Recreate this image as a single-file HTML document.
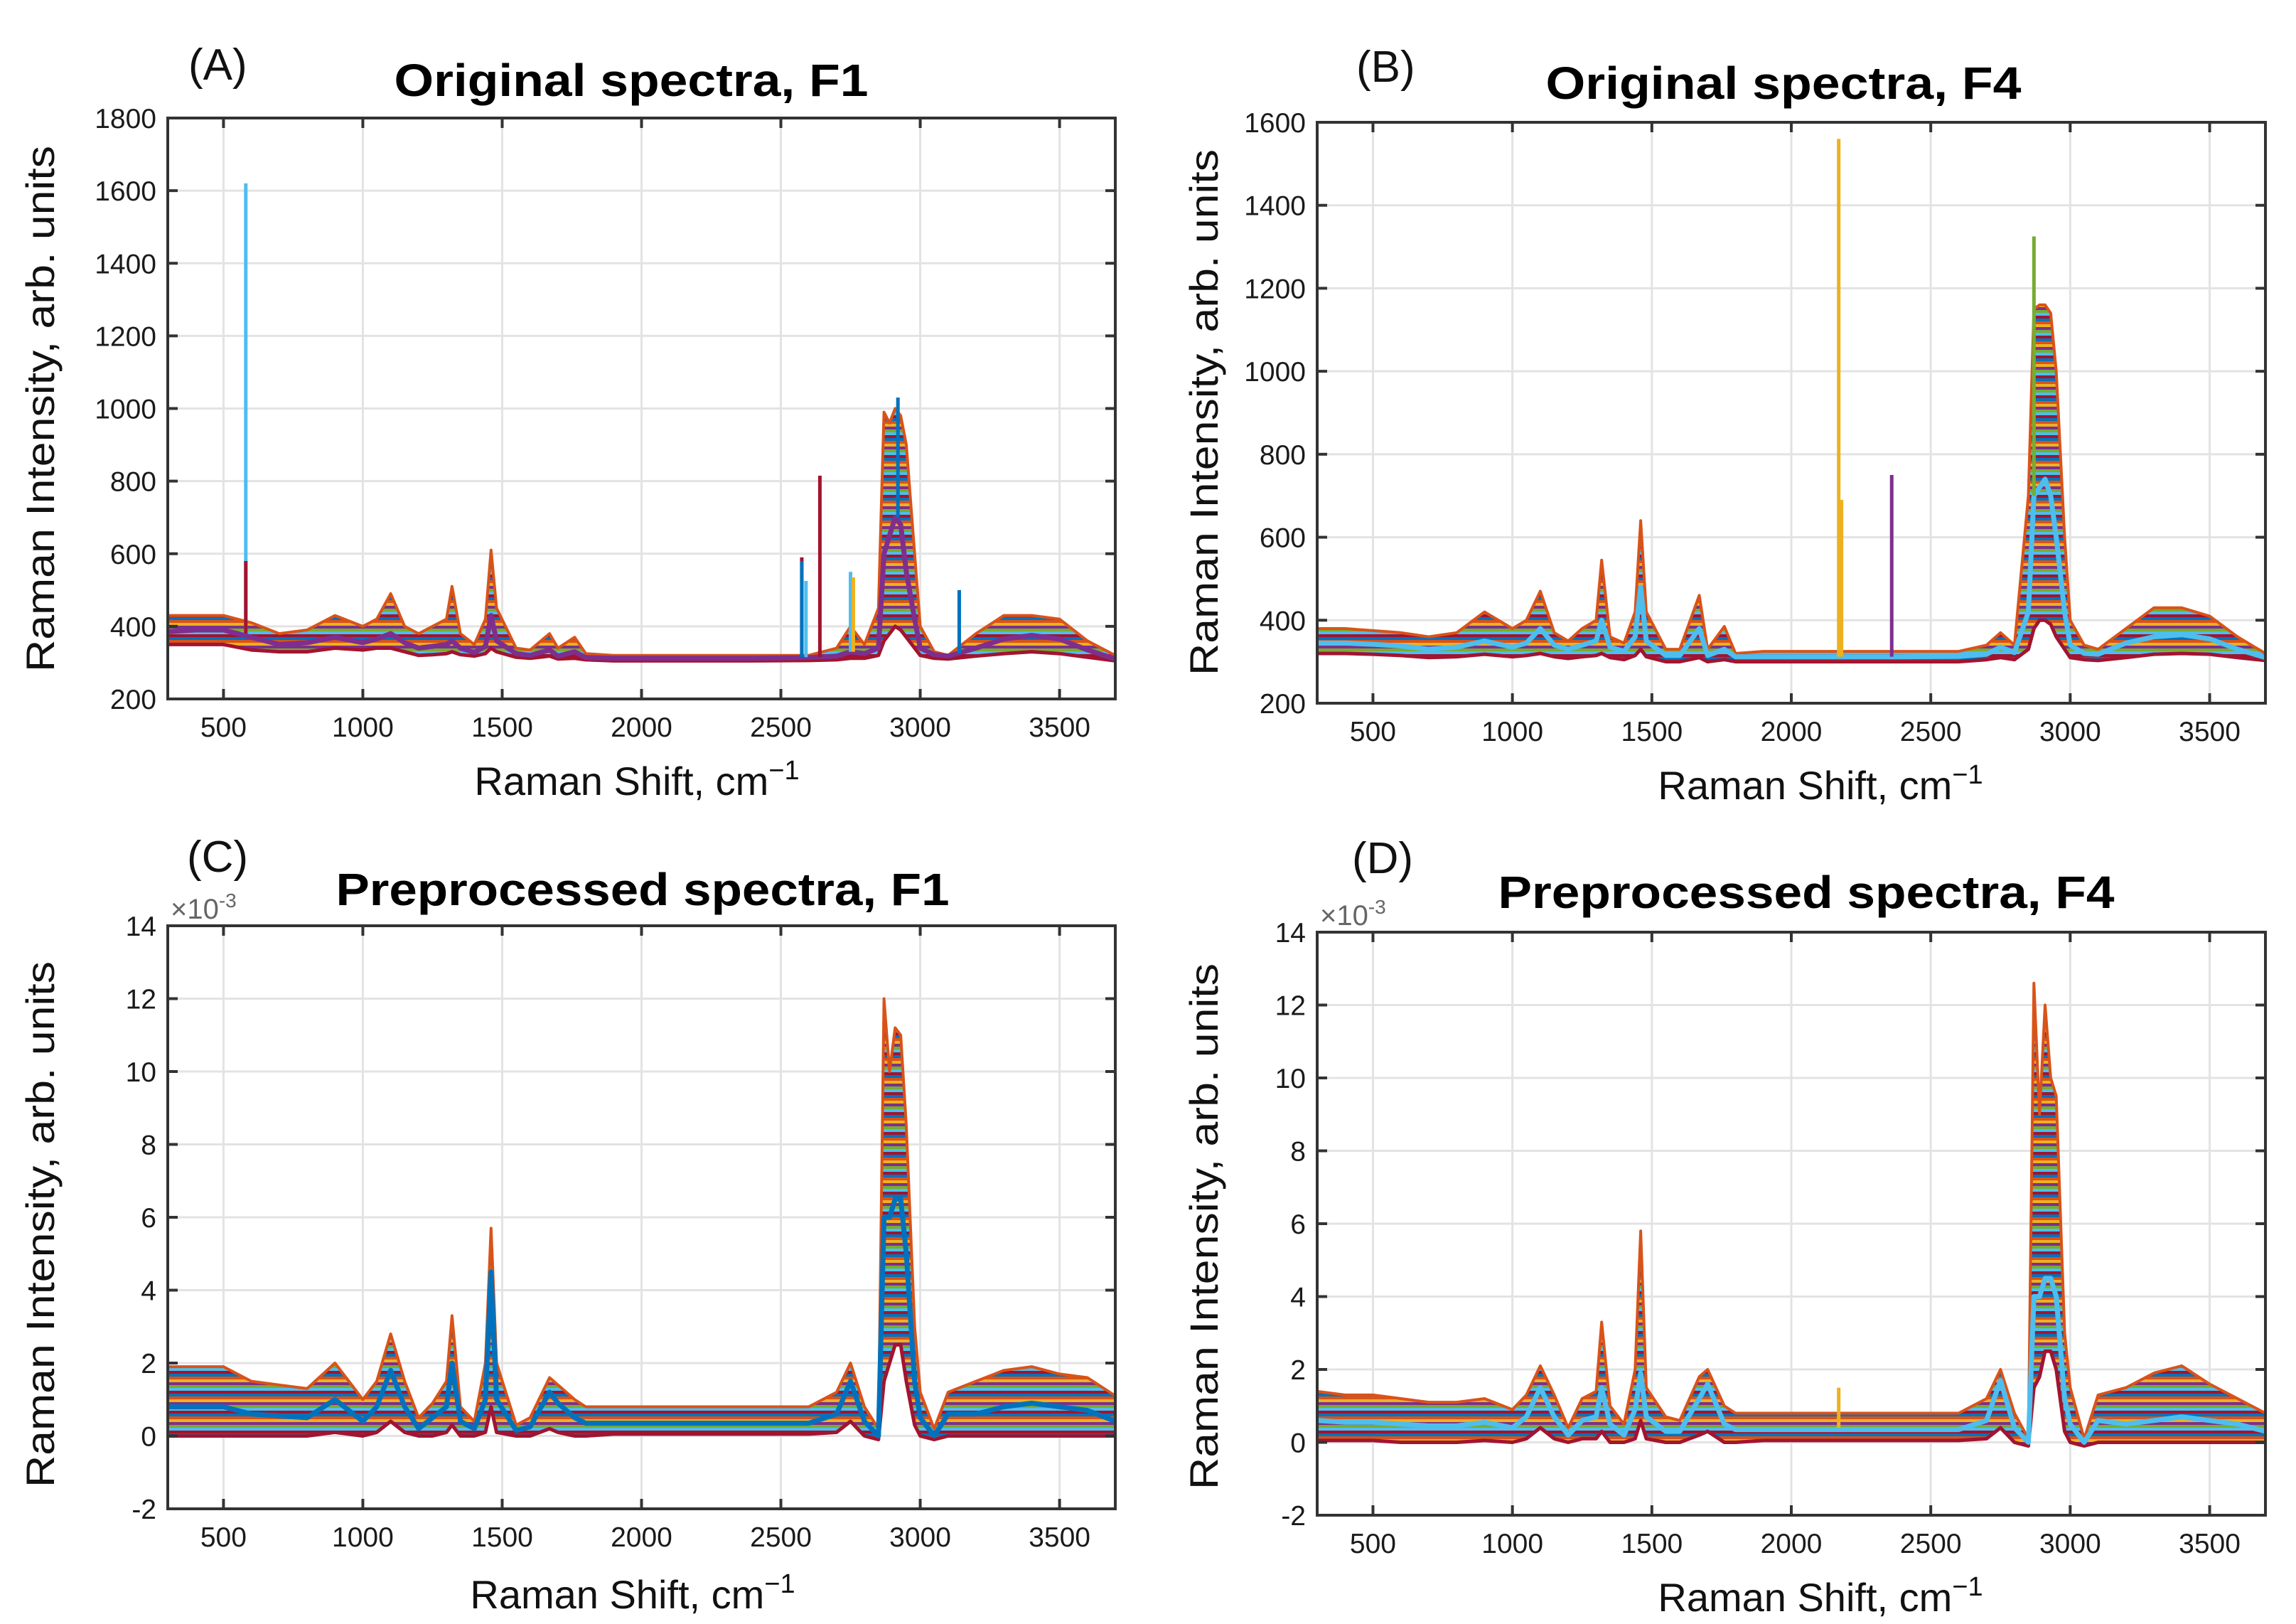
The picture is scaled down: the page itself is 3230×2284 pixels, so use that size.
<!DOCTYPE html>
<html><head><meta charset="utf-8"><style>
html,body{margin:0;padding:0;background:#fff;}
svg{display:block;font-family:"Liberation Sans",Arial,sans-serif;}
</style></head><body>
<svg id="fig" width="3230" height="2284" viewBox="0 0 3230 2284" xmlns="http://www.w3.org/2000/svg">
<defs>
<pattern id="stripes" patternUnits="userSpaceOnUse" width="40" height="28">
<rect x="0" y="0" width="40" height="4" fill="#0072BD"/>
<rect x="0" y="4" width="40" height="4" fill="#D95319"/>
<rect x="0" y="8" width="40" height="4" fill="#EDB120"/>
<rect x="0" y="12" width="40" height="4" fill="#7E2F8E"/>
<rect x="0" y="16" width="40" height="4" fill="#77AC30"/>
<rect x="0" y="20" width="40" height="4" fill="#4DBEEE"/>
<rect x="0" y="24" width="40" height="4" fill="#A2142F"/>
</pattern>
</defs>
</svg>
<script>
// shared Raman shift knots (cm-1)
var xsA=[300,400,500,600,700,800,900,1000,1050,1100,1150,1200,1250,1300,1320,1350,1400,1440,1460,1480,1550,1600,1670,1700,1760,1800,1900,2200,2400,2600,2700,2750,2800,2850,2870,2890,2910,2930,2950,2980,3000,3050,3100,3200,3300,3400,3500,3600,3700];
// Panel A (Original F1)
var upperA=[430,430,430,410,380,390,430,400,420,490,400,380,400,420,510,380,350,420,610,450,340,335,380,340,370,325,320,320,320,320,340,400,350,450,990,960,1000,980,900,600,400,330,320,380,430,430,420,360,320];
var meanA =[385,390,390,370,350,355,370,355,365,380,355,340,345,350,360,340,328,345,430,360,325,320,335,318,330,314,312,312,312,314,318,330,325,340,600,650,700,680,550,420,340,322,318,340,365,375,365,335,310];
var lowerA=[350,350,350,335,330,330,340,335,340,340,330,320,322,325,330,322,318,325,340,330,315,312,318,310,312,308,305,305,305,306,308,312,312,320,360,380,400,390,370,340,320,312,310,318,325,330,325,315,305];
var spikeXA=[580,580,2575,2575,2590,2640,2750,2760,3140,2920];
var spikeTopA=[1620,580,590,580,525,815,550,535,500,1030];
var spikeBaseA=[380,380,315,315,315,315,330,330,325,700];
var spikeColA=["#4DBEEE","#A2142F","#A2142F","#0072BD","#4DBEEE","#A2142F","#4DBEEE","#EDB120","#0072BD","#0072BD"];
// Panel B (Original F4)
var upperB=[380,380,375,370,360,370,420,380,400,470,370,350,380,400,545,360,345,420,640,420,330,330,460,330,385,320,325,325,325,325,340,370,340,700,1150,1160,1160,1140,1000,600,400,340,330,380,430,430,410,360,320];
var meanB =[345,345,342,338,330,335,350,335,345,380,340,330,340,350,400,335,325,360,480,350,315,315,380,315,330,312,312,312,312,313,318,335,322,420,700,720,740,700,600,420,340,320,318,345,360,365,355,330,310];
var lowerB=[320,320,318,315,310,312,318,312,315,320,312,308,312,315,320,310,305,315,330,312,300,300,310,300,305,300,300,300,300,300,305,310,305,330,380,400,400,390,360,330,310,305,303,310,318,320,318,310,303];
var spikeXB=[2170,2180,2360,2870];
var spikeTopB=[1560,690,750,1325];
var spikeBaseB=[312,312,312,700];
var spikeColB=["#EDB120","#EDB120","#7E2F8E","#77AC30"];
// Panel C (Preprocessed F1, x1e-3)
var upperC=[1.9,1.9,1.9,1.5,1.4,1.3,2.0,1.0,1.5,2.8,1.5,0.5,0.9,1.5,3.3,0.8,0.4,2.0,5.7,2.0,0.3,0.5,1.6,1.4,1.0,0.8,0.8,0.8,0.8,0.8,1.2,2.0,0.8,0.2,12.0,10.0,11.2,11.0,8.5,3.0,1.2,0.2,1.2,1.5,1.8,1.9,1.7,1.6,1.1];
var meanC =[0.8,0.8,0.8,0.6,0.55,0.5,1.0,0.4,0.8,1.8,0.8,0.2,0.5,0.8,2.0,0.4,0.2,1.0,4.5,1.0,0.15,0.25,1.2,0.9,0.5,0.35,0.35,0.35,0.35,0.35,0.6,1.5,0.4,0.0,6.0,6.0,6.5,6.5,5.0,1.5,0.5,0.0,0.6,0.6,0.8,0.9,0.8,0.7,0.4];
var lowerC=[0.0,0.0,0.0,0.0,0.0,0.0,0.1,0.0,0.1,0.4,0.1,0.0,0.0,0.1,0.3,0.0,0.0,0.1,0.8,0.1,0.0,0.0,0.2,0.1,0.0,0.0,0.05,0.05,0.05,0.05,0.1,0.4,0.0,-0.1,1.5,2.0,2.5,2.5,1.5,0.3,0.0,-0.1,0.0,0.0,0.0,0.0,0.0,0.0,0.0];
var spikeXC=[];var spikeTopC=[];var spikeBaseC=[];var spikeColC=[];
// Panel D (Preprocessed F4, x1e-3)
var upperD=[1.4,1.3,1.3,1.2,1.1,1.1,1.2,0.9,1.3,2.1,1.3,0.4,1.2,1.4,3.3,1.0,0.5,2.0,5.8,1.5,0.7,0.6,1.8,2.0,1.0,0.8,0.8,0.8,0.8,0.8,1.2,2.0,0.8,0.1,12.6,9.0,12.0,10.0,9.5,3.0,1.5,0.1,1.3,1.5,1.9,2.1,1.6,1.2,0.8];
var meanD =[0.6,0.55,0.55,0.5,0.45,0.45,0.55,0.4,0.7,1.5,0.7,0.2,0.6,0.7,1.5,0.5,0.2,0.9,1.9,0.7,0.3,0.3,1.2,1.6,0.5,0.35,0.35,0.35,0.35,0.35,0.6,1.7,0.4,0.0,4.0,4.0,4.5,4.5,4.0,1.2,0.5,0.0,0.6,0.5,0.6,0.7,0.6,0.5,0.3];
var lowerD=[0.05,0.05,0.05,0.0,0.0,0.0,0.05,0.0,0.1,0.4,0.1,0.0,0.1,0.1,0.3,0.0,0.0,0.1,0.6,0.1,0.0,0.0,0.2,0.3,0.0,0.0,0.05,0.05,0.05,0.05,0.1,0.4,0.0,-0.1,1.5,1.8,2.5,2.5,2.0,0.3,0.0,-0.1,0.0,0.0,0.0,0.0,0.0,0.0,0.0];
var spikeXD=[2170];var spikeTopD=[1.5];var spikeBaseD=[0.4];var spikeColD=["#EDB120"];
// tick labels
var xTicks=[500,1000,1500,2000,2500,3000,3500];
var yTicksA=[200,400,600,800,1000,1200,1400,1600,1800];
var yTicksB=[200,400,600,800,1000,1200,1400,1600];
var yTicksCD=[-2,0,2,4,6,8,10,12,14];

var NS="http://www.w3.org/2000/svg";
var svg=document.getElementById('fig');
function mk(tag,attrs,parent){var e=document.createElementNS(NS,tag);for(var k in attrs)e.setAttribute(k,attrs[k]);(parent||svg).appendChild(e);return e;}

var panels=[
 {id:'a',L:236,R:1569,T:166,B:983,ymin:200,ymax:1800,yt:yTicksA,up:upperA,mn:meanA,lo:lowerA,sx:spikeXA,st:spikeTopA,sb:spikeBaseA,sc:spikeColA,mc:'#7E2F8E',
  letter:'(A)',lx:265,ly:112,title:'Original spectra, F1',tx:888,ty:135,tw:667,xlx:896,xly:1118,ylx:56,yly:575,exp:false},
 {id:'b',L:1853,R:3187,T:172,B:989,ymin:200,ymax:1600,yt:yTicksB,up:upperB,mn:meanB,lo:lowerB,sx:spikeXB,st:spikeTopB,sb:spikeBaseB,sc:spikeColB,mc:'#4DBEEE',
  letter:'(B)',lx:1908,ly:115,title:'Original spectra, F4',tx:2509,ty:139,tw:669,xlx:2561,xly:1124,ylx:1693,yly:580,exp:false},
 {id:'c',L:236,R:1569,T:1302,B:2122,ymin:-2,ymax:14,yt:yTicksCD,up:upperC,mn:meanC,lo:lowerC,sx:spikeXC,st:spikeTopC,sb:spikeBaseC,sc:spikeColC,mc:'#0072BD',
  letter:'(C)',lx:263,ly:1226,title:'Preprocessed spectra, F1',tx:904,ty:1273,tw:863,xlx:890,xly:2262,ylx:56,yly:1722,exp:true},
 {id:'d',L:1853,R:3187,T:1311,B:2131,ymin:-2,ymax:14,yt:yTicksCD,up:upperD,mn:meanD,lo:lowerD,sx:spikeXD,st:spikeTopD,sb:spikeBaseD,sc:spikeColD,mc:'#4DBEEE',
  letter:'(D)',lx:1902,ly:1228,title:'Preprocessed spectra, F4',tx:2541,ty:1277,tw:867,xlx:2561,xly:2266,ylx:1693,yly:1725,exp:true}
];

panels.forEach(function(p){
 var g=mk('g',{});
 
 
 function X(v){return p.L+(v-300)/(3700-300)*(p.R-p.L);}
 function Y(v){return p.B-(v-p.ymin)/(p.ymax-p.ymin)*(p.B-p.T);}
 xTicks.forEach(function(t){var l=mk('line',{x1:X(t),x2:X(t),y1:p.T,y2:p.B,stroke:'#e3e3e3','stroke-width':3},g);
  
  });
 p.yt.forEach(function(t){var l=mk('line',{x1:p.L,x2:p.R,y1:Y(t),y2:Y(t),stroke:'#e3e3e3','stroke-width':3},g);
  
  });
 var cp=mk('clipPath',{id:'clip'+p.id},g);mk('rect',{x:p.L,y:p.T,width:p.R-p.L,height:p.B-p.T},cp);
 var dg=mk('g',{'clip-path':'url(#clip'+p.id+')'},g);
 var d='';
 for(var i=0;i<xsA.length;i++)d+=(i?'L':'M')+X(xsA[i]).toFixed(1)+','+Y(p.up[i]).toFixed(1);
 for(var i=xsA.length-1;i>=0;i--)d+='L'+X(xsA[i]).toFixed(1)+','+Y(p.lo[i]).toFixed(1);
 d+='Z';
 var band=mk('path',{d:d,fill:'url(#stripes)',stroke:'#D95319','stroke-width':4,'stroke-linejoin':'round'},dg);
 
 
 function line(arr,col,w,name){var s='';for(var i=0;i<xsA.length;i++)s+=(i?'L':'M')+X(xsA[i]).toFixed(1)+','+Y(arr[i]).toFixed(1);
  var e=mk('path',{d:s,fill:'none',stroke:col,'stroke-width':w,'stroke-linejoin':'round'},dg);
  
  }
 line(p.lo,'#A2142F',5,'lower-spectrum');
 line(p.mn,p.mc,7,'mean-spectrum');
 for(var k=0;k<p.sx.length;k++){
  var s=mk('line',{x1:X(p.sx[k]),x2:X(p.sx[k]),y1:Y(p.sb[k]),y2:Y(p.st[k]),stroke:p.sc[k],'stroke-width':5},dg);
  
  
 }
 var box=mk('rect',{x:p.L,y:p.T,width:p.R-p.L,height:p.B-p.T,fill:'none',stroke:'#333','stroke-width':4},g);
 
 
 xTicks.forEach(function(t){
  mk('line',{x1:X(t),x2:X(t),y1:p.B,y2:p.B-14,stroke:'#333','stroke-width':4},g);
  mk('line',{x1:X(t),x2:X(t),y1:p.T,y2:p.T+14,stroke:'#333','stroke-width':4},g);
  var tx=mk('text',{x:X(t),y:p.B+53,'font-size':39,'text-anchor':'middle',fill:'#1a1a1a'},g);tx.textContent=t;
  
  
 });
 p.yt.forEach(function(t){
  mk('line',{x1:p.L,x2:p.L+14,y1:Y(t),y2:Y(t),stroke:'#333','stroke-width':4},g);
  mk('line',{x1:p.R,x2:p.R-14,y1:Y(t),y2:Y(t),stroke:'#333','stroke-width':4},g);
  var tx=mk('text',{x:p.L-16,y:Y(t)+14,'font-size':39,'text-anchor':'end',fill:'#1a1a1a'},g);tx.textContent=t;
  
  
 });
 if(p.exp){
  var ex=mk('text',{x:p.L+4,y:p.T-10,'font-size':40,fill:'#666'},g);
  
  
  ex.innerHTML='×10<tspan dy="-16" font-size="28">-3</tspan>';
 }
 var le=mk('text',{x:p.lx,y:p.ly,'font-size':62,fill:'#111'},g);le.textContent=p.letter;
 
 
 var ti=mk('text',{x:p.tx,y:p.ty,'font-size':64,'font-weight':'bold','text-anchor':'middle',textLength:p.tw,lengthAdjust:'spacingAndGlyphs',fill:'#000'},g);ti.textContent=p.title;
 
 
 var xl=mk('text',{x:p.xlx,y:p.xly,'font-size':56,'text-anchor':'middle',fill:'#111'},g);
 xl.innerHTML='Raman Shift, cm<tspan dy="-22" font-size="38">−1</tspan>';
 
 
 var yl=mk('text',{x:0,y:0,'font-size':56,'text-anchor':'middle',textLength:740,lengthAdjust:'spacingAndGlyphs',fill:'#111',transform:'translate('+(p.ylx+20)+','+p.yly+') rotate(-90)'},g);
 yl.textContent='Raman Intensity, arb. units';
 
 
});
</script>
</body></html>
